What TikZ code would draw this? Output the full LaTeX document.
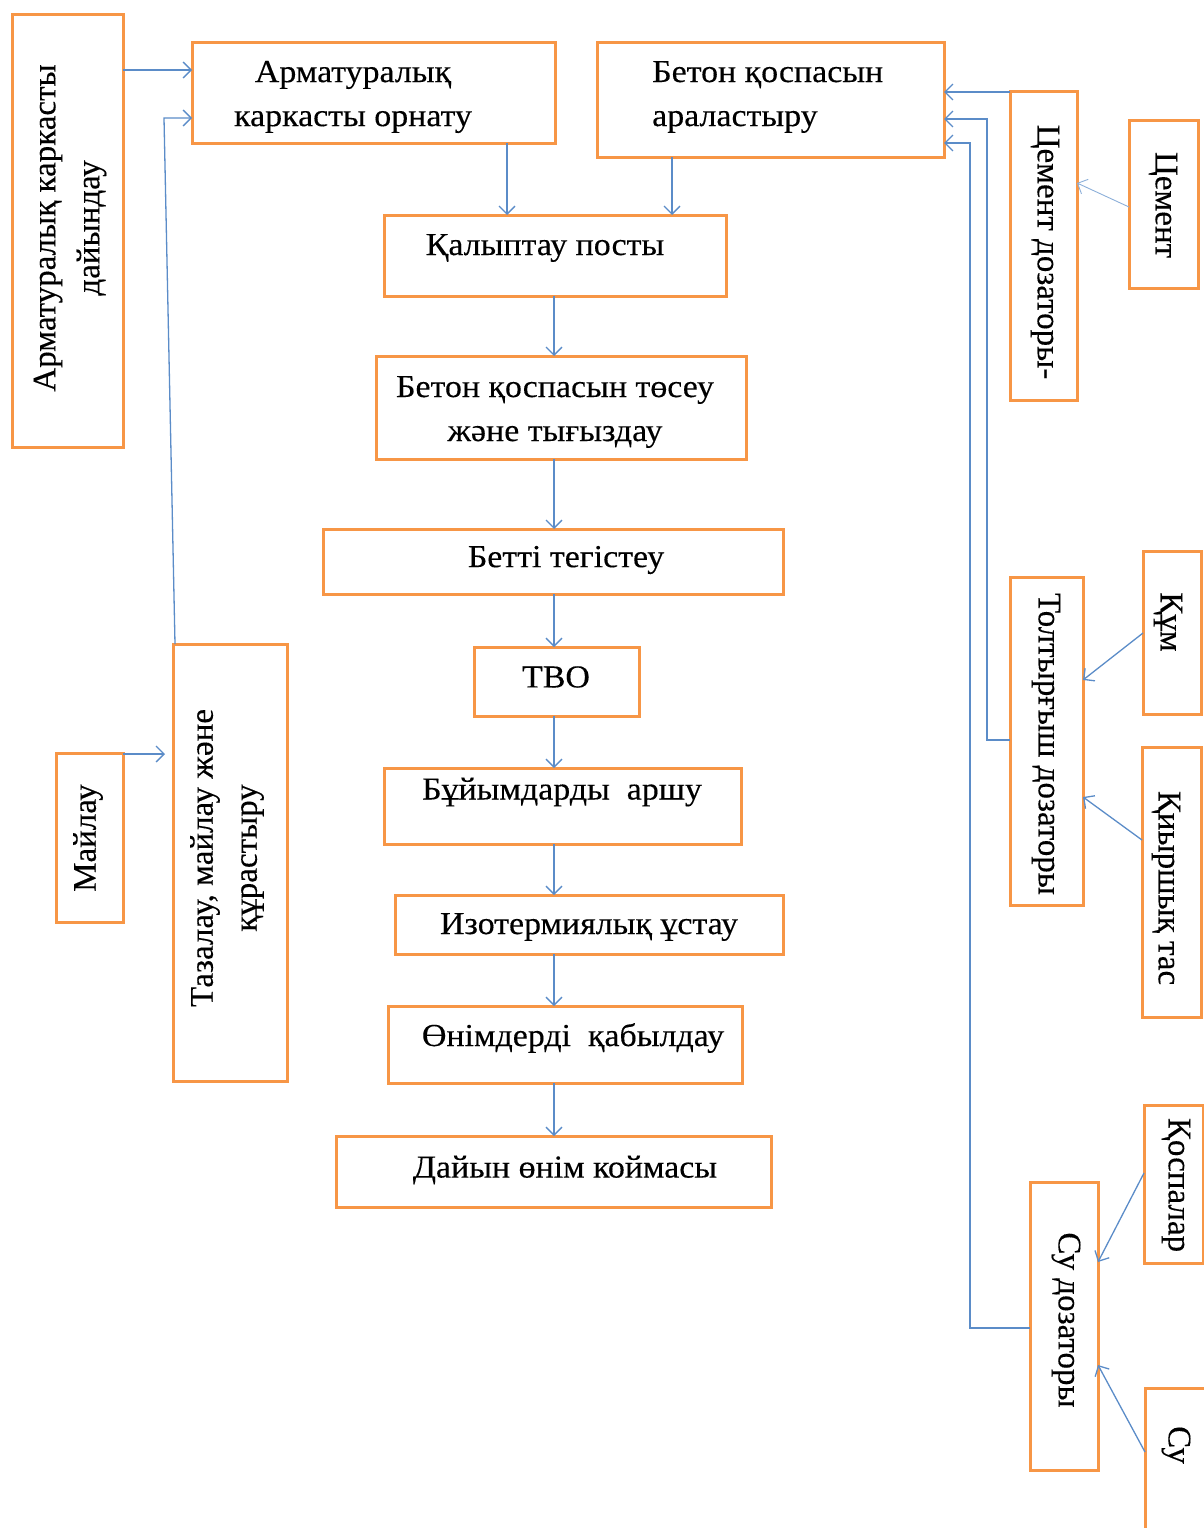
\documentclass[tikz,border=0pt]{standalone}
\usepackage{fontspec}
\setmainfont{Liberation Serif}
\newfontfamily\hfont[FakeStretch=1.06,FakeBold=0.3]{Liberation Serif}
\newfontfamily\vfont[FakeBold=0.3]{Liberation Serif}
\usetikzlibrary{arrows.meta}
\definecolor{boxorange}{HTML}{F79646}
\definecolor{linkblue}{HTML}{5B8CC8}
\tikzset{
  box/.style={draw=boxorange, line width=3pt, inner sep=0pt, outer sep=0pt, fill=none},
  lbl/.style={font=\hfont\fontsize{32}{44}\selectfont, inner sep=0pt, align=center, text=black},
  vlbl/.style={font=\vfont\fontsize{33}{44}\selectfont, inner sep=0pt, align=center, text=black},
  arr/.style={draw=linkblue, line width=1.3pt, -{Straight Barb[length=8pt,width=16pt]}},
  arrthin/.style={draw=linkblue!70, line width=0.9pt, -{Straight Barb[length=8pt,width=16pt]}}
}
\begin{document}
\begin{tikzpicture}[x=1pt,y=-1pt]
\useasboundingbox (0,0) rectangle (1204,1528);
% boxes
\node[box, minimum width=111pt, minimum height=432pt] (a1) at (67.5,231) {};
\node[box, minimum width=363pt, minimum height=100pt] (a2) at (373.5,93) {};
\node[box, minimum width=347pt, minimum height=114pt] (b) at (770.5,100) {};
\node[box, minimum width=67pt, minimum height=309pt] (cd) at (1043.5,245.5) {};
\node[box, minimum width=69pt, minimum height=168pt] (c) at (1163.5,204) {};
\node[box, minimum width=342pt, minimum height=81pt] (k) at (555,255.5) {};
\node[box, minimum width=370pt, minimum height=103pt] (t) at (561,407.5) {};
\node[box, minimum width=460pt, minimum height=65pt] (bt) at (553,561.5) {};
\node[box, minimum width=165pt, minimum height=69pt] (tvo) at (556.5,681.5) {};
\node[box, minimum width=357pt, minimum height=76pt] (ar) at (562.5,806) {};
\node[box, minimum width=388pt, minimum height=59pt] (iz) at (589,924.5) {};
\node[box, minimum width=354pt, minimum height=77pt] (on) at (565,1044.5) {};
\node[box, minimum width=435pt, minimum height=71pt] (d) at (553.5,1171.5) {};
\node[box, minimum width=67pt, minimum height=169pt] (m) at (89.5,837.5) {};
\node[box, minimum width=114pt, minimum height=437pt] (tz) at (230,862.5) {};
\node[box, minimum width=73pt, minimum height=328pt] (td) at (1046.5,741) {};
\node[box, minimum width=58pt, minimum height=163pt] (qum) at (1172,632.5) {};
\node[box, minimum width=59pt, minimum height=270pt] (qt) at (1171.5,882) {};
\node[box, minimum width=59pt, minimum height=158pt] (qos) at (1173.5,1184) {};
\node[box, minimum width=68pt, minimum height=288pt] (sd) at (1064,1326) {};
\node[box, minimum width=65pt, minimum height=152pt] (su) at (1177.5,1464) {};
% texts
\node[vlbl, rotate=90] (ta1) at (70,228) {Арматуралық каркасты\\дайындау};
\node[lbl] (ta2) at (353,97) {Арматуралық\\каркасты орнату};
\node[lbl, align=left, anchor=west] (tb) at (652,97) {Бетон қоспасын\\араластыру};
\node[vlbl, rotate=-90] (tcd) at (1045,252) {Цемент дозаторы-};
\node[vlbl, rotate=-90] (tc) at (1163,205) {Цемент};
\node[lbl] (tk) at (545,248) {Қалыптау посты};
\node[lbl] (tt) at (555,412) {Бетон қоспасын төсеу\\және тығыздау};
\node[lbl] (tbt) at (566,560) {Бетті тегістеу};
\node[lbl] (ttvo) at (556,677) {ТВО};
\node[lbl] (tar) at (562,792) {Бұйымдарды\ \ аршу};
\node[lbl] (tiz) at (589,927) {Изотермиялық ұстау};
\node[lbl] (ton) at (573,1038) {Өнімдерді\ \ қабылдау};
\node[lbl] (td1) at (565,1170) {Дайын өнім коймасы};
\node[vlbl, rotate=90] (tm) at (88,838) {Майлау};
\node[vlbl, rotate=90] (ttz) at (227,858) {Тазалау, майлау және\\құрастыру};
\node[vlbl, rotate=-90] (ttd) at (1046,744) {Толтырғыш дозаторы};
\node[vlbl, rotate=-90] (tqum) at (1168,622) {Құм};
\node[vlbl, rotate=-90] (tqt) at (1166,888) {Қиыршық тас};
\node[vlbl, rotate=-90] (tqos) at (1176,1185) {Қоспалар};
\node[vlbl, rotate=-90] (tsd) at (1066,1320) {Су дозаторы};
\node[vlbl, rotate=-90] (tsu) at (1176,1445) {Су};
% connector coordinates
\coordinate (cx) at (554,0);
\coordinate (c507) at (507,0);
\coordinate (c672) at (672,0);
% main chain
\draw[arr] (a2.south -| c507) -- (k.north -| c507);
\draw[arr] (b.south -| c672) -- (k.north -| c672);
\draw[arr] (k.south -| cx) -- (t.north -| cx);
\draw[arr] (t.south -| cx) -- (bt.north -| cx);
\draw[arr] (bt.south -| cx) -- (tvo.north -| cx);
\draw[arr] (tvo.south -| cx) -- (ar.north -| cx);
\draw[arr] (ar.south -| cx) -- (iz.north -| cx);
\draw[arr] (iz.south -| cx) -- (on.north -| cx);
\draw[arr] (on.south -| cx) -- (d.north -| cx);
% left side
\draw[arr] (a1.east |- 0,70) -- (a2.west |- 0,70);
\draw[arr] (tz.north -| 175,0) -- (164,118) -- (a2.west |- 0,118);
\draw[arr] (m.east |- 0,754) -- (165,754);
% right side
\draw[arr] (cd.west |- 0,92) -- (b.east |- 0,92);
\draw[arr] (td.west |- 0,740) -- (987,740) -- (987,119) -- (b.east |- 0,119);
\draw[arr] (sd.west |- 0,1328) -- (970,1328) -- (970,143) -- (b.east |- 0,143);
\draw[arrthin] (c.west |- 0,207) -- (cd.east |- 0,183);
\draw[arr] (qum.west |- 0,633) -- (td.east |- 0,680);
\draw[arr] (qt.west |- 0,840) -- (td.east |- 0,797);
\draw[arr] (qos.west |- 0,1173) -- (sd.east |- 0,1262);
\draw[arr] (su.west |- 0,1452) -- (sd.east |- 0,1365);
\end{tikzpicture}
\end{document}
